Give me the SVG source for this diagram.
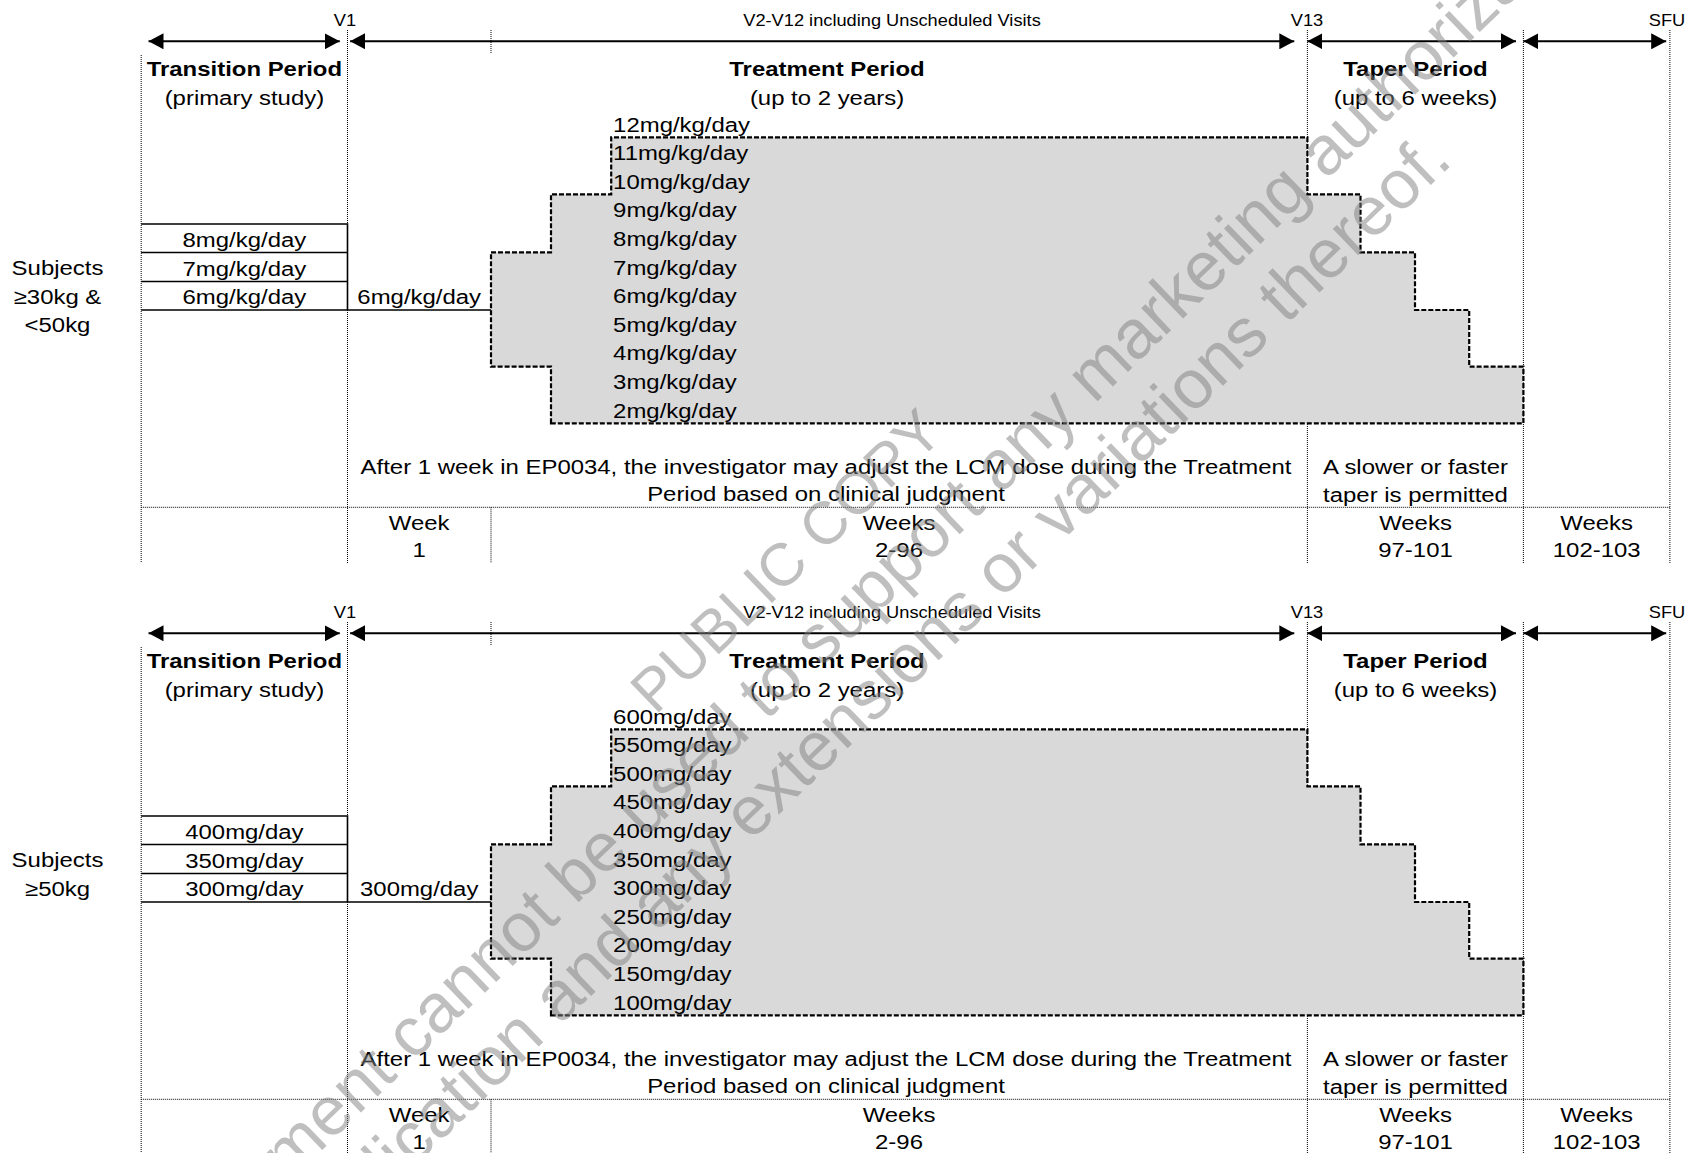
<svg xmlns="http://www.w3.org/2000/svg" width="1686" height="1153" viewBox="0 0 1686 1153">
<defs>
<style>
.t{font-family:"Liberation Sans",Arial,sans-serif;font-size:21px;fill:#000}
.b{font-weight:bold}
.s{font-size:16px}
.m{text-anchor:middle}
.grid{stroke:#000;stroke-width:1;stroke-dasharray:1 1;fill:none}
.box{stroke:#000;stroke-width:1.6;fill:none}
.dose{fill:#d9d9d9;stroke:#000;stroke-width:2.2;stroke-dasharray:5 2}
.arr{stroke:#000;stroke-width:2;fill:none;marker-start:url(#ah);marker-end:url(#ah)}
.wm{font-family:"Liberation Sans",Arial,sans-serif;font-size:69px;fill:#808080;fill-opacity:0.5}
</style>
<marker id="ah" viewBox="0 0 15 16" refX="15" refY="8" markerWidth="15" markerHeight="16" markerUnits="userSpaceOnUse" orient="auto-start-reverse"><path d="M0,0L15,8L0,16z" fill="#000"/></marker>
</defs>
<rect width="1686" height="1153" fill="#fff"/>

<g id="panel1">
  <g id="p1-grid"><path class="grid" d="M141.2,55V563M347.5,30V563M491,30V53M491,507.3V563M1307.4,30V563M1523.4,30V563M1669.9,30V563M141.2,507.3H1669.9"/></g>
  <g id="p1-connectors">
    <line class="arr" x1="148.5" y1="41.3" x2="339.8" y2="41.3"/>
    <line class="arr" x1="350.1" y1="41.3" x2="1294.3" y2="41.3"/>
    <line class="arr" x1="1307.4" y1="41.3" x2="1516" y2="41.3"/>
    <line class="arr" x1="1523.4" y1="41.3" x2="1666.2" y2="41.3"/>
  </g>
  <g id="p1-visits">
    <text class="t s m" transform="translate(345,26) scale(1.14,1)">V1</text>
    <text class="t s m" transform="translate(892,26) scale(1.14,1)">V2-V12 including Unscheduled Visits</text>
    <text class="t s m" transform="translate(1307,26) scale(1.14,1)">V13</text>
    <text class="t s m" transform="translate(1667,26) scale(1.14,1)">SFU</text>
  </g>
  <g id="p1-titles">
    <text class="t b m" transform="translate(244.4,76) scale(1.14,1)">Transition Period</text>
    <text class="t m" transform="translate(244.4,105) scale(1.14,1)">(primary study)</text>
    <text class="t b m" transform="translate(827,76) scale(1.14,1)">Treatment Period</text>
    <text class="t m" transform="translate(827,105) scale(1.14,1)">(up to 2 years)</text>
    <text class="t b m" transform="translate(1415.5,76) scale(1.14,1)">Taper Period</text>
    <text class="t m" transform="translate(1415.5,105) scale(1.14,1)">(up to 6 weeks)</text>
  </g>
  <g id="p1-subjects">
    <text class="t m" transform="translate(57.5,275) scale(1.14,1)">Subjects</text>
    <text class="t m" transform="translate(57.5,303.5) scale(1.14,1)">≥30kg &amp;</text>
    <text class="t m" transform="translate(57.5,332) scale(1.14,1)">&lt;50kg</text>
  </g>
  <g id="p1-transition">
    <path class="box" d="M141.2,224H347.5V310M141.2,252.5H347.5M141.2,281.5H347.5M141.2,310H491"/>
    <text class="t m" transform="translate(244.4,247) scale(1.14,1)">8mg/kg/day</text>
    <text class="t m" transform="translate(244.4,275.5) scale(1.14,1)">7mg/kg/day</text>
    <text class="t m" transform="translate(244.4,304) scale(1.14,1)">6mg/kg/day</text>
    <text class="t m" transform="translate(419.2,304) scale(1.14,1)">6mg/kg/day</text>
  </g>
  <g id="p1-dose">
    <path class="dose" d="M551,423.3V366.7H491V252.3H551V194.3H611.2V137.3H1307.4V194.3H1360.5V252.3H1415V310H1469.2V366.7H1523.4V423.3Z"/>
    <text class="t" transform="translate(613.1,131.5) scale(1.14,1)">12mg/kg/day</text>
    <text class="t" transform="translate(613.1,160.1) scale(1.14,1)">11mg/kg/day</text>
    <text class="t" transform="translate(613.1,188.7) scale(1.14,1)">10mg/kg/day</text>
    <text class="t" transform="translate(613.1,217.3) scale(1.14,1)">9mg/kg/day</text>
    <text class="t" transform="translate(613.1,245.9) scale(1.14,1)">8mg/kg/day</text>
    <text class="t" transform="translate(613.1,274.5) scale(1.14,1)">7mg/kg/day</text>
    <text class="t" transform="translate(613.1,303.1) scale(1.14,1)">6mg/kg/day</text>
    <text class="t" transform="translate(613.1,331.7) scale(1.14,1)">5mg/kg/day</text>
    <text class="t" transform="translate(613.1,360.3) scale(1.14,1)">4mg/kg/day</text>
    <text class="t" transform="translate(613.1,388.9) scale(1.14,1)">3mg/kg/day</text>
    <text class="t" transform="translate(613.1,417.5) scale(1.14,1)">2mg/kg/day</text>
  </g>
  <g id="p1-notes">
    <text class="t m" transform="translate(826,474) scale(1.14,1)">After 1 week in EP0034, the investigator may adjust the LCM dose during the Treatment</text>
    <text class="t m" transform="translate(826,501) scale(1.14,1)">Period based on clinical judgment</text>
    <text class="t m" transform="translate(1415.5,474) scale(1.14,1)">A slower or faster</text>
    <text class="t m" transform="translate(1415.5,501.5) scale(1.14,1)">taper is permitted</text>
  </g>
  <g id="p1-weeks">
    <text class="t m" transform="translate(419.2,530) scale(1.14,1)">Week</text>
    <text class="t m" transform="translate(419.2,557.3) scale(1.14,1)">1</text>
    <text class="t m" transform="translate(899,530) scale(1.14,1)">Weeks</text>
    <text class="t m" transform="translate(899,557.3) scale(1.14,1)">2-96</text>
    <text class="t m" transform="translate(1415.5,530) scale(1.14,1)">Weeks</text>
    <text class="t m" transform="translate(1415.5,557.3) scale(1.14,1)">97-101</text>
    <text class="t m" transform="translate(1596.7,530) scale(1.14,1)">Weeks</text>
    <text class="t m" transform="translate(1596.7,557.3) scale(1.14,1)">102-103</text>
  </g>
</g>

<g id="panel2" transform="translate(0,592)">
  <g id="p2-grid"><path class="grid" d="M141.2,55V563M347.5,30V563M491,30V53M491,507.3V563M1307.4,30V563M1523.4,30V563M1669.9,30V563M141.2,507.3H1669.9"/></g>
  <g id="p2-connectors">
    <line class="arr" x1="148.5" y1="41.3" x2="339.8" y2="41.3"/>
    <line class="arr" x1="350.1" y1="41.3" x2="1294.3" y2="41.3"/>
    <line class="arr" x1="1307.4" y1="41.3" x2="1516" y2="41.3"/>
    <line class="arr" x1="1523.4" y1="41.3" x2="1666.2" y2="41.3"/>
  </g>
  <g id="p2-visits">
    <text class="t s m" transform="translate(345,26) scale(1.14,1)">V1</text>
    <text class="t s m" transform="translate(892,26) scale(1.14,1)">V2-V12 including Unscheduled Visits</text>
    <text class="t s m" transform="translate(1307,26) scale(1.14,1)">V13</text>
    <text class="t s m" transform="translate(1667,26) scale(1.14,1)">SFU</text>
  </g>
  <g id="p2-titles">
    <text class="t b m" transform="translate(244.4,76) scale(1.14,1)">Transition Period</text>
    <text class="t m" transform="translate(244.4,105) scale(1.14,1)">(primary study)</text>
    <text class="t b m" transform="translate(827,76) scale(1.14,1)">Treatment Period</text>
    <text class="t m" transform="translate(827,105) scale(1.14,1)">(up to 2 years)</text>
    <text class="t b m" transform="translate(1415.5,76) scale(1.14,1)">Taper Period</text>
    <text class="t m" transform="translate(1415.5,105) scale(1.14,1)">(up to 6 weeks)</text>
  </g>
  <g id="p2-subjects">
    <text class="t m" transform="translate(57.5,275) scale(1.14,1)">Subjects</text>
    <text class="t m" transform="translate(57.5,303.5) scale(1.14,1)">≥50kg</text>
  </g>
  <g id="p2-transition">
    <path class="box" d="M141.2,224H347.5V310M141.2,252.5H347.5M141.2,281.5H347.5M141.2,310H491"/>
    <text class="t m" transform="translate(244.4,247) scale(1.14,1)">400mg/day</text>
    <text class="t m" transform="translate(244.4,275.5) scale(1.14,1)">350mg/day</text>
    <text class="t m" transform="translate(244.4,304) scale(1.14,1)">300mg/day</text>
    <text class="t m" transform="translate(419.2,304) scale(1.14,1)">300mg/day</text>
  </g>
  <g id="p2-dose">
    <path class="dose" d="M551,423.3V366.7H491V252.3H551V194.3H611.2V137.3H1307.4V194.3H1360.5V252.3H1415V310H1469.2V366.7H1523.4V423.3Z"/>
    <text class="t" transform="translate(613.1,131.5) scale(1.14,1)">600mg/day</text>
    <text class="t" transform="translate(613.1,160.1) scale(1.14,1)">550mg/day</text>
    <text class="t" transform="translate(613.1,188.7) scale(1.14,1)">500mg/day</text>
    <text class="t" transform="translate(613.1,217.3) scale(1.14,1)">450mg/day</text>
    <text class="t" transform="translate(613.1,245.9) scale(1.14,1)">400mg/day</text>
    <text class="t" transform="translate(613.1,274.5) scale(1.14,1)">350mg/day</text>
    <text class="t" transform="translate(613.1,303.1) scale(1.14,1)">300mg/day</text>
    <text class="t" transform="translate(613.1,331.7) scale(1.14,1)">250mg/day</text>
    <text class="t" transform="translate(613.1,360.3) scale(1.14,1)">200mg/day</text>
    <text class="t" transform="translate(613.1,388.9) scale(1.14,1)">150mg/day</text>
    <text class="t" transform="translate(613.1,417.5) scale(1.14,1)">100mg/day</text>
  </g>
  <g id="p2-notes">
    <text class="t m" transform="translate(826,474) scale(1.14,1)">After 1 week in EP0034, the investigator may adjust the LCM dose during the Treatment</text>
    <text class="t m" transform="translate(826,501) scale(1.14,1)">Period based on clinical judgment</text>
    <text class="t m" transform="translate(1415.5,474) scale(1.14,1)">A slower or faster</text>
    <text class="t m" transform="translate(1415.5,501.5) scale(1.14,1)">taper is permitted</text>
  </g>
  <g id="p2-weeks">
    <text class="t m" transform="translate(419.2,530) scale(1.14,1)">Week</text>
    <text class="t m" transform="translate(419.2,557.3) scale(1.14,1)">1</text>
    <text class="t m" transform="translate(899,530) scale(1.14,1)">Weeks</text>
    <text class="t m" transform="translate(899,557.3) scale(1.14,1)">2-96</text>
    <text class="t m" transform="translate(1415.5,530) scale(1.14,1)">Weeks</text>
    <text class="t m" transform="translate(1415.5,557.3) scale(1.14,1)">97-101</text>
    <text class="t m" transform="translate(1596.7,530) scale(1.14,1)">Weeks</text>
    <text class="t m" transform="translate(1596.7,557.3) scale(1.14,1)">102-103</text>
  </g>
</g>

<g id="watermark" transform="rotate(-44)">
  <text class="wm" x="176" y="970" text-anchor="middle" style="font-size:60px">PUBLIC COPY</text>
  <text class="wm" x="-913" y="1051">This document cannot be used to support any marketing authorization</text>
  <text class="wm" x="933" y="1127" text-anchor="end">application and any extensions or variations thereof.</text>
</g>
</svg>
